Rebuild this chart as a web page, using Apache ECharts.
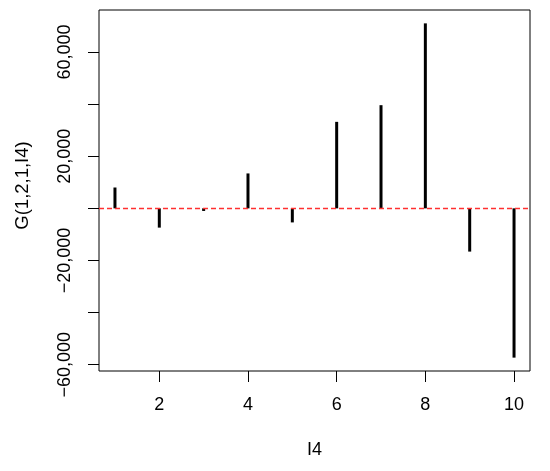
<!DOCTYPE html>
<html>
<head>
<meta charset="utf-8">
<script src="https://cdn.jsdelivr.net/npm/echarts@6/dist/echarts.min.js"></script>
<style>html,body{margin:0;padding:0;background:#fff}#c{width:550px;height:471px}</style>
</head>
<body>
<div id="c"></div>
<script>
const xValues = [1, 2, 3, 4, 5, 6, 7, 8, 9, 10];
const gValues = [8000, -7400, -1000, 13400, -5400, 33200, 39600, 71000, -16600, -57300];
const xTicks = [2, 4, 6, 8, 10];
const yTicks = [-60000, -40000, -20000, 0, 20000, 40000, 60000];
const yLabels = [-60000, -20000, 20000, 60000];

const font = '"Liberation Sans", Arial, sans-serif';
function fmt(v) {
  const s = Math.abs(v).toString().replace(/\B(?=(\d{3})+(?!\d))/g, ',');
  return (v < 0 ? '\u2212' : '') + s;
}
// R-style 4% axis extension
const xMin = Math.min(...xValues), xMax = Math.max(...xValues);
const xr = xMax - xMin;
const yMin = Math.min(...gValues), yMax = Math.max(...gValues);
const yr = yMax - yMin;

const chart = echarts.init(document.getElementById('c'), null, {renderer: 'canvas'});
chart.setOption({
  animation: false,
  backgroundColor: '#fff',
  grid: {left: 99, right: 20, top: 10, bottom: 100, show: true, borderColor: '#000', borderWidth: 1, backgroundColor: 'transparent'},
  xAxis: {
    type: 'value',
    position: 'bottom',
    min: xMin - 0.04 * xr,
    max: xMax + 0.04 * xr,
    name: 'I4',
    nameLocation: 'middle',
    nameGap: 70,
    nameTextStyle: {fontFamily: font, fontSize: 18, color: '#000'},
    axisLine: {show: false, onZero: false},
    splitLine: {show: false},
    axisTick: {show: true, length: 11, lineStyle: {color: '#000', width: 1}, customValues: xTicks},
    axisLabel: {fontFamily: font, fontSize: 18, color: '#000', margin: 25, customValues: xTicks}
  },
  yAxis: {
    type: 'value',
    position: 'left',
    min: yMin - 0.04 * yr,
    max: yMax + 0.04 * yr,
    name: 'G(1,2,1,I4)',
    nameLocation: 'middle',
    nameRotate: 90,
    nameGap: 67,
    nameTextStyle: {fontFamily: font, fontSize: 18.5, color: '#000', padding: [0, 0, 0, 10]},
    axisLine: {show: false, onZero: false},
    splitLine: {show: false},
    axisTick: {show: true, length: 11, lineStyle: {color: '#000', width: 1}, customValues: yTicks},
    axisLabel: {fontFamily: font, fontSize: 18, color: '#000', rotate: 90, margin: 25, customValues: yLabels, formatter: v => fmt(v)}
  },
  series: [{
    type: 'custom',
    data: xValues.map((x, i) => [x, gValues[i]]),
    encode: {x: 0, y: 1},
    renderItem: function (params, api) {
      const p0 = api.coord([api.value(0), 0]);
      const p1 = api.coord([api.value(0), api.value(1)]);
      return {type: 'line', shape: {x1: p0[0], y1: p0[1], x2: p1[0], y2: p1[1]}, style: {stroke: '#000', lineWidth: 3}};
    },
    markLine: {
      silent: true,
      symbol: 'none',
      label: {show: false},
      lineStyle: {color: '#ff3030', type: [5, 3], width: 1.3},
      data: [{yAxis: 0}]
    },
    z: 2
  }]
});
</script>
</body>
</html>
